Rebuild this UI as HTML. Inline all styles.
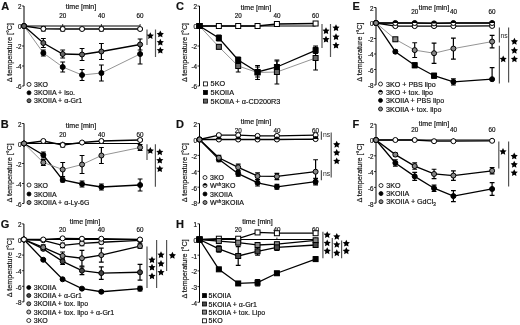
<!DOCTYPE html>
<html><head><meta charset="utf-8"><style>
html,body{margin:0;padding:0;background:#fff;}
svg{display:block;font-family:"Liberation Sans", sans-serif;filter:blur(0.3px);}
</style></head><body>
<svg width="520" height="325" viewBox="0 0 520 325" font-family='"Liberation Sans", sans-serif'>
<style>text{fill:#111;stroke:#111;stroke-width:0.18px;}</style>
<rect width="520" height="325" fill="#fff"/>
<g>
<text x="1.2" y="9.9" font-size="11" font-weight="bold">A</text>
<line x1="24" y1="6" x2="24" y2="86" stroke="#000" stroke-width="1"/>
<line x1="22" y1="6" x2="24" y2="6" stroke="#000" stroke-width="0.8"/>
<text x="21.5" y="9.3" font-size="6.3" text-anchor="end">2</text>
<line x1="22" y1="26" x2="24" y2="26" stroke="#000" stroke-width="0.8"/>
<text x="21.5" y="29.3" font-size="6.3" text-anchor="end">0</text>
<line x1="22" y1="46" x2="24" y2="46" stroke="#000" stroke-width="0.8"/>
<text x="21.5" y="49.3" font-size="6.3" text-anchor="end">-2</text>
<line x1="22" y1="66" x2="24" y2="66" stroke="#000" stroke-width="0.8"/>
<text x="21.5" y="69.3" font-size="6.3" text-anchor="end">-4</text>
<line x1="22" y1="86" x2="24" y2="86" stroke="#000" stroke-width="0.8"/>
<text x="21.5" y="89.3" font-size="6.3" text-anchor="end">-6</text>
<text transform="translate(11.8,52.6) rotate(-90)" font-size="7.2" text-anchor="middle">Δ temperature [°C]</text>
<line x1="24" y1="26" x2="140.10000000000002" y2="26" stroke="#000" stroke-width="1"/>
<line x1="62.7" y1="24" x2="62.7" y2="26" stroke="#000" stroke-width="0.8"/>
<text x="62.7" y="18.2" font-size="6.3" text-anchor="middle">20</text>
<line x1="101.4" y1="24" x2="101.4" y2="26" stroke="#000" stroke-width="0.8"/>
<text x="101.4" y="18.2" font-size="6.3" text-anchor="middle">40</text>
<line x1="140.10000000000002" y1="24" x2="140.10000000000002" y2="26" stroke="#000" stroke-width="0.8"/>
<text x="140.10000000000002" y="18.2" font-size="6.3" text-anchor="middle">60</text>
<text x="81" y="9.1" font-size="7" text-anchor="middle">time [min]</text>
<polyline points="24.00,26.00 43.35,28.80 62.70,29.00 82.05,29.00 101.40,29.00 140.10,29.00" fill="none" stroke="#000" stroke-width="1.3"/>
<polyline points="24.00,26.00 43.35,53.00 62.70,67.00 82.05,75.00 101.40,73.00 140.10,54.00" fill="none" stroke="#888" stroke-width="0.9"/>
<polyline points="24.00,26.00 43.35,43.00 62.70,54.00 82.05,54.50 101.40,51.50 140.10,44.50" fill="none" stroke="#000" stroke-width="1.3"/>
<path d="M43.35,26.80V30.80M40.95,26.80h4.8M40.95,30.80h4.8" stroke="#000" stroke-width="1.2" fill="none"/>
<path d="M62.70,27.00V31.00M60.30,27.00h4.8M60.30,31.00h4.8" stroke="#000" stroke-width="1.2" fill="none"/>
<path d="M82.05,28.00V30.00M79.65,28.00h4.8M79.65,30.00h4.8" stroke="#000" stroke-width="1.2" fill="none"/>
<path d="M101.40,27.00V31.00M99.00,27.00h4.8M99.00,31.00h4.8" stroke="#000" stroke-width="1.2" fill="none"/>
<path d="M140.10,28.00V30.00M137.70,28.00h4.8M137.70,30.00h4.8" stroke="#000" stroke-width="1.2" fill="none"/>
<path d="M43.35,50.00V56.00M40.95,50.00h4.8M40.95,56.00h4.8" stroke="#000" stroke-width="1.2" fill="none"/>
<path d="M62.70,62.00V72.00M60.30,62.00h4.8M60.30,72.00h4.8" stroke="#000" stroke-width="1.2" fill="none"/>
<path d="M82.05,69.50V80.50M79.65,69.50h4.8M79.65,80.50h4.8" stroke="#000" stroke-width="1.2" fill="none"/>
<path d="M101.40,65.00V81.00M99.00,65.00h4.8M99.00,81.00h4.8" stroke="#000" stroke-width="1.2" fill="none"/>
<path d="M140.10,44.00V64.00M137.70,44.00h4.8M137.70,64.00h4.8" stroke="#000" stroke-width="1.2" fill="none"/>
<path d="M43.35,38.50V47.50M40.95,38.50h4.8M40.95,47.50h4.8" stroke="#000" stroke-width="1.2" fill="none"/>
<path d="M62.70,50.00V58.00M60.30,50.00h4.8M60.30,58.00h4.8" stroke="#000" stroke-width="1.2" fill="none"/>
<path d="M82.05,48.50V60.50M79.65,48.50h4.8M79.65,60.50h4.8" stroke="#000" stroke-width="1.2" fill="none"/>
<path d="M101.40,43.50V59.50M99.00,43.50h4.8M99.00,59.50h4.8" stroke="#000" stroke-width="1.2" fill="none"/>
<path d="M140.10,39.00V50.00M137.70,39.00h4.8M137.70,50.00h4.8" stroke="#000" stroke-width="1.2" fill="none"/>
<circle cx="24.00" cy="26.00" r="2.5" fill="#fff" stroke="#000" stroke-width="1.0"/>
<circle cx="43.35" cy="28.80" r="2.5" fill="#fff" stroke="#000" stroke-width="1.0"/>
<circle cx="62.70" cy="29.00" r="2.5" fill="#fff" stroke="#000" stroke-width="1.0"/>
<circle cx="82.05" cy="29.00" r="2.5" fill="#fff" stroke="#000" stroke-width="1.0"/>
<circle cx="101.40" cy="29.00" r="2.5" fill="#fff" stroke="#000" stroke-width="1.0"/>
<circle cx="140.10" cy="29.00" r="2.5" fill="#fff" stroke="#000" stroke-width="1.0"/>
<circle cx="24.00" cy="26.00" r="2.5" fill="#000" stroke="#000" stroke-width="1.0"/>
<circle cx="43.35" cy="53.00" r="2.5" fill="#000" stroke="#000" stroke-width="1.0"/>
<circle cx="62.70" cy="67.00" r="2.5" fill="#000" stroke="#000" stroke-width="1.0"/>
<circle cx="82.05" cy="75.00" r="2.5" fill="#000" stroke="#000" stroke-width="1.0"/>
<circle cx="101.40" cy="73.00" r="2.5" fill="#000" stroke="#000" stroke-width="1.0"/>
<circle cx="140.10" cy="54.00" r="2.5" fill="#000" stroke="#000" stroke-width="1.0"/>
<circle cx="24.00" cy="26.00" r="2.5" fill="#666" stroke="#000" stroke-width="1.0"/>
<circle cx="43.35" cy="43.00" r="2.5" fill="#666" stroke="#000" stroke-width="1.0"/>
<circle cx="62.70" cy="54.00" r="2.5" fill="#666" stroke="#000" stroke-width="1.0"/>
<circle cx="82.05" cy="54.50" r="2.5" fill="#666" stroke="#000" stroke-width="1.0"/>
<circle cx="101.40" cy="51.50" r="2.5" fill="#666" stroke="#000" stroke-width="1.0"/>
<circle cx="140.10" cy="44.50" r="2.5" fill="#666" stroke="#000" stroke-width="1.0"/>
<circle cx="29.00" cy="84.40" r="2.0" fill="#fff" stroke="#000" stroke-width="0.8"/>
<text x="34" y="86.9" font-size="7">3KO</text>
<circle cx="29.00" cy="92.80" r="2.0" fill="#000" stroke="#000" stroke-width="0.8"/>
<text x="34" y="95.3" font-size="7">3KOIIA + iso.</text>
<circle cx="29.00" cy="100.70" r="2.0" fill="#666" stroke="#000" stroke-width="0.8"/>
<text x="34" y="103.2" font-size="7">3KOIIA + α-Gr1</text>
<line x1="147" y1="29.5" x2="147" y2="45" stroke="#555" stroke-width="1.2"/>
<line x1="155.5" y1="29.5" x2="155.5" y2="57" stroke="#555" stroke-width="1.2"/>
<polygon points="150.30,32.15 151.40,34.38 153.87,34.74 152.08,36.48 152.50,38.93 150.30,37.77 148.10,38.93 148.52,36.48 146.73,34.74 149.20,34.38" fill="#000"/>
<polygon points="160.30,30.55 161.40,32.78 163.87,33.14 162.08,34.88 162.50,37.33 160.30,36.17 158.10,37.33 158.52,34.88 156.73,33.14 159.20,32.78" fill="#000"/>
<polygon points="160.30,38.75 161.40,40.98 163.87,41.34 162.08,43.08 162.50,45.53 160.30,44.38 158.10,45.53 158.52,43.08 156.73,41.34 159.20,40.98" fill="#000"/>
<polygon points="160.30,46.75 161.40,48.98 163.87,49.34 162.08,51.08 162.50,53.53 160.30,52.38 158.10,53.53 158.52,51.08 156.73,49.34 159.20,48.98" fill="#000"/>
</g>
<g>
<text x="0.8" y="128" font-size="11" font-weight="bold">B</text>
<line x1="24" y1="123.5" x2="24" y2="203.5" stroke="#000" stroke-width="1"/>
<line x1="22" y1="123.5" x2="24" y2="123.5" stroke="#000" stroke-width="0.8"/>
<text x="21.5" y="126.8" font-size="6.3" text-anchor="end">2</text>
<line x1="22" y1="143.5" x2="24" y2="143.5" stroke="#000" stroke-width="0.8"/>
<text x="21.5" y="146.8" font-size="6.3" text-anchor="end">0</text>
<line x1="22" y1="163.5" x2="24" y2="163.5" stroke="#000" stroke-width="0.8"/>
<text x="21.5" y="166.8" font-size="6.3" text-anchor="end">-2</text>
<line x1="22" y1="183.5" x2="24" y2="183.5" stroke="#000" stroke-width="0.8"/>
<text x="21.5" y="186.8" font-size="6.3" text-anchor="end">-4</text>
<line x1="22" y1="203.5" x2="24" y2="203.5" stroke="#000" stroke-width="0.8"/>
<text x="21.5" y="206.8" font-size="6.3" text-anchor="end">-6</text>
<text transform="translate(11.8,172.8) rotate(-90)" font-size="7.2" text-anchor="middle">Δ temperature [°C]</text>
<line x1="24" y1="143.5" x2="140.10000000000002" y2="143.5" stroke="#000" stroke-width="1"/>
<line x1="62.7" y1="141.5" x2="62.7" y2="143.5" stroke="#000" stroke-width="0.8"/>
<text x="62.7" y="136.7" font-size="6.3" text-anchor="middle">20</text>
<line x1="101.4" y1="141.5" x2="101.4" y2="143.5" stroke="#000" stroke-width="0.8"/>
<text x="101.4" y="136.7" font-size="6.3" text-anchor="middle">40</text>
<line x1="140.10000000000002" y1="141.5" x2="140.10000000000002" y2="143.5" stroke="#000" stroke-width="0.8"/>
<text x="140.10000000000002" y="136.7" font-size="6.3" text-anchor="middle">60</text>
<text x="81" y="127.89999999999999" font-size="7" text-anchor="middle">time [min]</text>
<polyline points="24.00,143.50 43.35,141.00 62.70,145.00 82.05,142.50 101.40,141.00 140.10,140.00" fill="none" stroke="#000" stroke-width="1.3"/>
<polyline points="24.00,143.50 43.35,155.00 62.70,180.00 82.05,184.00 101.40,187.00 140.10,185.00" fill="none" stroke="#000" stroke-width="1.3"/>
<polyline points="24.00,143.50 43.35,162.50 62.70,169.50 82.05,164.50 101.40,155.50 140.10,147.50" fill="none" stroke="#888" stroke-width="0.9"/>
<path d="M43.35,140.00V142.00M40.95,140.00h4.8M40.95,142.00h4.8" stroke="#000" stroke-width="1.2" fill="none"/>
<path d="M62.70,143.00V147.00M60.30,143.00h4.8M60.30,147.00h4.8" stroke="#000" stroke-width="1.2" fill="none"/>
<path d="M82.05,141.50V143.50M79.65,141.50h4.8M79.65,143.50h4.8" stroke="#000" stroke-width="1.2" fill="none"/>
<path d="M101.40,140.00V142.00M99.00,140.00h4.8M99.00,142.00h4.8" stroke="#000" stroke-width="1.2" fill="none"/>
<path d="M140.10,139.00V141.00M137.70,139.00h4.8M137.70,141.00h4.8" stroke="#000" stroke-width="1.2" fill="none"/>
<path d="M43.35,152.00V158.00M40.95,152.00h4.8M40.95,158.00h4.8" stroke="#000" stroke-width="1.2" fill="none"/>
<path d="M62.70,178.00V182.00M60.30,178.00h4.8M60.30,182.00h4.8" stroke="#000" stroke-width="1.2" fill="none"/>
<path d="M82.05,181.00V187.00M79.65,181.00h4.8M79.65,187.00h4.8" stroke="#000" stroke-width="1.2" fill="none"/>
<path d="M101.40,184.00V190.00M99.00,184.00h4.8M99.00,190.00h4.8" stroke="#000" stroke-width="1.2" fill="none"/>
<path d="M140.10,179.00V191.00M137.70,179.00h4.8M137.70,191.00h4.8" stroke="#000" stroke-width="1.2" fill="none"/>
<path d="M43.35,159.50V165.50M40.95,159.50h4.8M40.95,165.50h4.8" stroke="#000" stroke-width="1.2" fill="none"/>
<path d="M62.70,162.50V176.50M60.30,162.50h4.8M60.30,176.50h4.8" stroke="#000" stroke-width="1.2" fill="none"/>
<path d="M82.05,155.50V173.50M79.65,155.50h4.8M79.65,173.50h4.8" stroke="#000" stroke-width="1.2" fill="none"/>
<path d="M101.40,147.50V163.50M99.00,147.50h4.8M99.00,163.50h4.8" stroke="#000" stroke-width="1.2" fill="none"/>
<path d="M140.10,144.50V150.50M137.70,144.50h4.8M137.70,150.50h4.8" stroke="#000" stroke-width="1.2" fill="none"/>
<circle cx="24.00" cy="143.50" r="2.5" fill="#fff" stroke="#000" stroke-width="1.0"/>
<circle cx="43.35" cy="141.00" r="2.5" fill="#fff" stroke="#000" stroke-width="1.0"/>
<circle cx="62.70" cy="145.00" r="2.5" fill="#fff" stroke="#000" stroke-width="1.0"/>
<circle cx="82.05" cy="142.50" r="2.5" fill="#fff" stroke="#000" stroke-width="1.0"/>
<circle cx="101.40" cy="141.00" r="2.5" fill="#fff" stroke="#000" stroke-width="1.0"/>
<circle cx="140.10" cy="140.00" r="2.5" fill="#fff" stroke="#000" stroke-width="1.0"/>
<circle cx="24.00" cy="143.50" r="2.5" fill="#000" stroke="#000" stroke-width="1.0"/>
<circle cx="43.35" cy="155.00" r="2.5" fill="#000" stroke="#000" stroke-width="1.0"/>
<circle cx="62.70" cy="180.00" r="2.5" fill="#000" stroke="#000" stroke-width="1.0"/>
<circle cx="82.05" cy="184.00" r="2.5" fill="#000" stroke="#000" stroke-width="1.0"/>
<circle cx="101.40" cy="187.00" r="2.5" fill="#000" stroke="#000" stroke-width="1.0"/>
<circle cx="140.10" cy="185.00" r="2.5" fill="#000" stroke="#000" stroke-width="1.0"/>
<circle cx="24.00" cy="143.50" r="2.5" fill="#888" stroke="#000" stroke-width="1.0"/>
<circle cx="43.35" cy="162.50" r="2.5" fill="#888" stroke="#000" stroke-width="1.0"/>
<circle cx="62.70" cy="169.50" r="2.5" fill="#888" stroke="#000" stroke-width="1.0"/>
<circle cx="82.05" cy="164.50" r="2.5" fill="#888" stroke="#000" stroke-width="1.0"/>
<circle cx="101.40" cy="155.50" r="2.5" fill="#888" stroke="#000" stroke-width="1.0"/>
<circle cx="140.10" cy="147.50" r="2.5" fill="#888" stroke="#000" stroke-width="1.0"/>
<circle cx="29.00" cy="185.00" r="2.0" fill="#fff" stroke="#000" stroke-width="0.8"/>
<text x="34" y="187.5" font-size="7">3KO</text>
<circle cx="29.00" cy="194.00" r="2.0" fill="#000" stroke="#000" stroke-width="0.8"/>
<text x="34" y="196.5" font-size="7">3KOIIA</text>
<circle cx="29.00" cy="202.50" r="2.0" fill="#888" stroke="#000" stroke-width="0.8"/>
<text x="34" y="205.0" font-size="7">3KOIIA + α-Ly-6G</text>
<line x1="147" y1="144.3" x2="147" y2="160.1" stroke="#555" stroke-width="1.2"/>
<line x1="155.4" y1="144.3" x2="155.4" y2="186.7" stroke="#555" stroke-width="1.2"/>
<polygon points="150.30,147.05 151.40,149.28 153.87,149.64 152.08,151.38 152.50,153.83 150.30,152.68 148.10,153.83 148.52,151.38 146.73,149.64 149.20,149.28" fill="#000"/>
<polygon points="159.80,148.45 160.90,150.68 163.37,151.04 161.58,152.78 162.00,155.23 159.80,154.07 157.60,155.23 158.02,152.78 156.23,151.04 158.70,150.68" fill="#000"/>
<polygon points="159.80,156.75 160.90,158.98 163.37,159.34 161.58,161.08 162.00,163.53 159.80,162.38 157.60,163.53 158.02,161.08 156.23,159.34 158.70,158.98" fill="#000"/>
<polygon points="159.80,165.25 160.90,167.48 163.37,167.84 161.58,169.58 162.00,172.03 159.80,170.88 157.60,172.03 158.02,169.58 156.23,167.84 158.70,167.48" fill="#000"/>
</g>
<g>
<text x="176" y="10" font-size="11" font-weight="bold">C</text>
<line x1="199.5" y1="6" x2="199.5" y2="86" stroke="#000" stroke-width="1"/>
<line x1="197.5" y1="6" x2="199.5" y2="6" stroke="#000" stroke-width="0.8"/>
<text x="197.0" y="9.3" font-size="6.3" text-anchor="end">2</text>
<line x1="197.5" y1="26" x2="199.5" y2="26" stroke="#000" stroke-width="0.8"/>
<text x="197.0" y="29.3" font-size="6.3" text-anchor="end">0</text>
<line x1="197.5" y1="46" x2="199.5" y2="46" stroke="#000" stroke-width="0.8"/>
<text x="197.0" y="49.3" font-size="6.3" text-anchor="end">-2</text>
<line x1="197.5" y1="66" x2="199.5" y2="66" stroke="#000" stroke-width="0.8"/>
<text x="197.0" y="69.3" font-size="6.3" text-anchor="end">-4</text>
<line x1="197.5" y1="86" x2="199.5" y2="86" stroke="#000" stroke-width="0.8"/>
<text x="197.0" y="89.3" font-size="6.3" text-anchor="end">-6</text>
<text transform="translate(187.3,52.5) rotate(-90)" font-size="7.2" text-anchor="middle">Δ temperature [°C]</text>
<line x1="199.5" y1="26" x2="315.6" y2="26" stroke="#000" stroke-width="1"/>
<line x1="238.2" y1="24" x2="238.2" y2="26" stroke="#000" stroke-width="0.8"/>
<text x="238.2" y="18.2" font-size="6.3" text-anchor="middle">20</text>
<line x1="276.9" y1="24" x2="276.9" y2="26" stroke="#000" stroke-width="0.8"/>
<text x="276.9" y="18.2" font-size="6.3" text-anchor="middle">40</text>
<line x1="315.6" y1="24" x2="315.6" y2="26" stroke="#000" stroke-width="0.8"/>
<text x="315.6" y="18.2" font-size="6.3" text-anchor="middle">60</text>
<text x="256" y="9.6" font-size="7" text-anchor="middle">time [min]</text>
<polyline points="199.50,26.00 218.85,26.00 238.20,26.00 257.55,26.00 276.90,24.00 315.60,23.50" fill="none" stroke="#000" stroke-width="1.3"/>
<polyline points="199.50,26.00 218.85,46.80 238.20,66.00 257.55,72.50 276.90,72.00 315.60,58.00" fill="none" stroke="#888" stroke-width="0.9"/>
<polyline points="199.50,26.00 218.85,38.00 238.20,60.00 257.55,72.00 276.90,67.00 315.60,50.30" fill="none" stroke="#000" stroke-width="1.3"/>
<path d="M218.85,25.00V27.00M216.45,25.00h4.8M216.45,27.00h4.8" stroke="#000" stroke-width="1.2" fill="none"/>
<path d="M238.20,25.00V27.00M235.80,25.00h4.8M235.80,27.00h4.8" stroke="#000" stroke-width="1.2" fill="none"/>
<path d="M257.55,25.00V27.00M255.15,25.00h4.8M255.15,27.00h4.8" stroke="#000" stroke-width="1.2" fill="none"/>
<path d="M276.90,23.00V25.00M274.50,23.00h4.8M274.50,25.00h4.8" stroke="#000" stroke-width="1.2" fill="none"/>
<path d="M315.60,22.50V24.50M313.20,22.50h4.8M313.20,24.50h4.8" stroke="#000" stroke-width="1.2" fill="none"/>
<path d="M218.85,44.80V48.80M216.45,44.80h4.8M216.45,48.80h4.8" stroke="#000" stroke-width="1.2" fill="none"/>
<path d="M238.20,60.00V72.00M235.80,60.00h4.8M235.80,72.00h4.8" stroke="#000" stroke-width="1.2" fill="none"/>
<path d="M257.55,65.50V79.50M255.15,65.50h4.8M255.15,79.50h4.8" stroke="#000" stroke-width="1.2" fill="none"/>
<path d="M276.90,60.00V84.00M274.50,60.00h4.8M274.50,84.00h4.8" stroke="#000" stroke-width="1.2" fill="none"/>
<path d="M315.60,46.00V70.00M313.20,46.00h4.8M313.20,70.00h4.8" stroke="#000" stroke-width="1.2" fill="none"/>
<path d="M218.85,35.00V41.00M216.45,35.00h4.8M216.45,41.00h4.8" stroke="#000" stroke-width="1.2" fill="none"/>
<path d="M238.20,57.00V63.00M235.80,57.00h4.8M235.80,63.00h4.8" stroke="#000" stroke-width="1.2" fill="none"/>
<path d="M257.55,67.00V77.00M255.15,67.00h4.8M255.15,77.00h4.8" stroke="#000" stroke-width="1.2" fill="none"/>
<path d="M276.90,61.00V73.00M274.50,61.00h4.8M274.50,73.00h4.8" stroke="#000" stroke-width="1.2" fill="none"/>
<path d="M315.60,47.30V53.30M313.20,47.30h4.8M313.20,53.30h4.8" stroke="#000" stroke-width="1.2" fill="none"/>
<rect x="197.00" y="23.50" width="5.0" height="5.0" fill="#fff" stroke="#000" stroke-width="1.0"/>
<rect x="216.35" y="23.50" width="5.0" height="5.0" fill="#fff" stroke="#000" stroke-width="1.0"/>
<rect x="235.70" y="23.50" width="5.0" height="5.0" fill="#fff" stroke="#000" stroke-width="1.0"/>
<rect x="255.05" y="23.50" width="5.0" height="5.0" fill="#fff" stroke="#000" stroke-width="1.0"/>
<rect x="274.40" y="21.50" width="5.0" height="5.0" fill="#fff" stroke="#000" stroke-width="1.0"/>
<rect x="313.10" y="21.00" width="5.0" height="5.0" fill="#fff" stroke="#000" stroke-width="1.0"/>
<rect x="197.00" y="23.50" width="5.0" height="5.0" fill="#666" stroke="#000" stroke-width="1.0"/>
<rect x="216.35" y="44.30" width="5.0" height="5.0" fill="#666" stroke="#000" stroke-width="1.0"/>
<rect x="235.70" y="63.50" width="5.0" height="5.0" fill="#666" stroke="#000" stroke-width="1.0"/>
<rect x="255.05" y="70.00" width="5.0" height="5.0" fill="#666" stroke="#000" stroke-width="1.0"/>
<rect x="274.40" y="69.50" width="5.0" height="5.0" fill="#666" stroke="#000" stroke-width="1.0"/>
<rect x="313.10" y="55.50" width="5.0" height="5.0" fill="#666" stroke="#000" stroke-width="1.0"/>
<rect x="197.00" y="23.50" width="5.0" height="5.0" fill="#000" stroke="#000" stroke-width="1.0"/>
<rect x="216.35" y="35.50" width="5.0" height="5.0" fill="#000" stroke="#000" stroke-width="1.0"/>
<rect x="235.70" y="57.50" width="5.0" height="5.0" fill="#000" stroke="#000" stroke-width="1.0"/>
<rect x="255.05" y="69.50" width="5.0" height="5.0" fill="#000" stroke="#000" stroke-width="1.0"/>
<rect x="274.40" y="64.50" width="5.0" height="5.0" fill="#000" stroke="#000" stroke-width="1.0"/>
<rect x="313.10" y="47.80" width="5.0" height="5.0" fill="#000" stroke="#000" stroke-width="1.0"/>
<rect x="203.40" y="81.90" width="4.0" height="4.0" fill="#fff" stroke="#000" stroke-width="0.8"/>
<text x="210.6" y="86.4" font-size="7.25">5KO</text>
<rect x="203.40" y="90.50" width="4.0" height="4.0" fill="#000" stroke="#000" stroke-width="0.8"/>
<text x="210.6" y="95.0" font-size="7.25">5KOIIA</text>
<rect x="203.40" y="99.10" width="4.0" height="4.0" fill="#666" stroke="#000" stroke-width="0.8"/>
<text x="210.6" y="103.6" font-size="7.25">5KOIIA + α-CD200R3</text>
<line x1="322" y1="24" x2="322" y2="48" stroke="#555" stroke-width="1.2"/>
<line x1="330.5" y1="24" x2="330.5" y2="57" stroke="#555" stroke-width="1.2"/>
<polygon points="326.00,27.25 327.10,29.48 329.57,29.84 327.78,31.58 328.20,34.03 326.00,32.88 323.80,34.03 324.22,31.58 322.43,29.84 324.90,29.48" fill="#000"/>
<polygon points="326.00,35.75 327.10,37.98 329.57,38.34 327.78,40.08 328.20,42.53 326.00,41.38 323.80,42.53 324.22,40.08 322.43,38.34 324.90,37.98" fill="#000"/>
<polygon points="336.00,24.25 337.10,26.48 339.57,26.84 337.78,28.58 338.20,31.03 336.00,29.88 333.80,31.03 334.22,28.58 332.43,26.84 334.90,26.48" fill="#000"/>
<polygon points="336.00,33.25 337.10,35.48 339.57,35.84 337.78,37.58 338.20,40.03 336.00,38.88 333.80,40.03 334.22,37.58 332.43,35.84 334.90,35.48" fill="#000"/>
<polygon points="336.00,41.75 337.10,43.98 339.57,44.34 337.78,46.08 338.20,48.53 336.00,47.38 333.80,48.53 334.22,46.08 332.43,44.34 334.90,43.98" fill="#000"/>
</g>
<g>
<text x="176" y="127.8" font-size="11" font-weight="bold">D</text>
<line x1="199.5" y1="123.6" x2="199.5" y2="203.1" stroke="#000" stroke-width="1"/>
<line x1="197.5" y1="123.6" x2="199.5" y2="123.6" stroke="#000" stroke-width="0.8"/>
<text x="197.0" y="126.89999999999999" font-size="6.3" text-anchor="end">2</text>
<line x1="197.5" y1="139.5" x2="199.5" y2="139.5" stroke="#000" stroke-width="0.8"/>
<text x="197.0" y="142.8" font-size="6.3" text-anchor="end">0</text>
<line x1="197.5" y1="155.4" x2="199.5" y2="155.4" stroke="#000" stroke-width="0.8"/>
<text x="197.0" y="158.70000000000002" font-size="6.3" text-anchor="end">-2</text>
<line x1="197.5" y1="171.3" x2="199.5" y2="171.3" stroke="#000" stroke-width="0.8"/>
<text x="197.0" y="174.60000000000002" font-size="6.3" text-anchor="end">-4</text>
<line x1="197.5" y1="187.2" x2="199.5" y2="187.2" stroke="#000" stroke-width="0.8"/>
<text x="197.0" y="190.5" font-size="6.3" text-anchor="end">-6</text>
<line x1="197.5" y1="203.1" x2="199.5" y2="203.1" stroke="#000" stroke-width="0.8"/>
<text x="197.0" y="206.4" font-size="6.3" text-anchor="end">-8</text>
<text transform="translate(187.3,172.54999999999998) rotate(-90)" font-size="7.2" text-anchor="middle">Δ temperature [°C]</text>
<line x1="199.5" y1="139.5" x2="315.6" y2="139.5" stroke="#000" stroke-width="1"/>
<line x1="238.2" y1="137.5" x2="238.2" y2="139.5" stroke="#000" stroke-width="0.8"/>
<text x="238.2" y="132.7" font-size="6.3" text-anchor="middle">20</text>
<line x1="276.9" y1="137.5" x2="276.9" y2="139.5" stroke="#000" stroke-width="0.8"/>
<text x="276.9" y="132.7" font-size="6.3" text-anchor="middle">40</text>
<line x1="315.6" y1="137.5" x2="315.6" y2="139.5" stroke="#000" stroke-width="0.8"/>
<text x="315.6" y="132.7" font-size="6.3" text-anchor="middle">60</text>
<text x="256" y="124.1" font-size="7" text-anchor="middle">time [min]</text>
<polyline points="199.50,139.50 218.85,135.13 238.20,135.13 257.55,135.92 276.90,135.92 315.60,135.13" fill="none" stroke="#000" stroke-width="1.3"/>
<polyline points="199.50,139.50 218.85,139.50 238.20,139.50 257.55,139.50 276.90,139.50 315.60,139.10" fill="none" stroke="#000" stroke-width="1.3"/>
<polyline points="199.50,139.50 218.85,159.38 238.20,173.69 257.55,182.83 276.90,186.80 315.60,181.63" fill="none" stroke="#000" stroke-width="1.3"/>
<polyline points="199.50,139.50 218.85,157.78 238.20,167.32 257.55,176.07 276.90,176.47 315.60,171.70" fill="none" stroke="#000" stroke-width="1.3"/>
<path d="M218.85,134.33V135.92M216.45,134.33h4.8M216.45,135.92h4.8" stroke="#000" stroke-width="1.2" fill="none"/>
<path d="M238.20,134.33V135.92M235.80,134.33h4.8M235.80,135.92h4.8" stroke="#000" stroke-width="1.2" fill="none"/>
<path d="M257.55,135.13V136.72M255.15,135.13h4.8M255.15,136.72h4.8" stroke="#000" stroke-width="1.2" fill="none"/>
<path d="M276.90,135.13V136.72M274.50,135.13h4.8M274.50,136.72h4.8" stroke="#000" stroke-width="1.2" fill="none"/>
<path d="M315.60,134.33V135.92M313.20,134.33h4.8M313.20,135.92h4.8" stroke="#000" stroke-width="1.2" fill="none"/>
<path d="M218.85,138.71V140.29M216.45,138.71h4.8M216.45,140.29h4.8" stroke="#000" stroke-width="1.2" fill="none"/>
<path d="M238.20,138.71V140.29M235.80,138.71h4.8M235.80,140.29h4.8" stroke="#000" stroke-width="1.2" fill="none"/>
<path d="M257.55,138.71V140.29M255.15,138.71h4.8M255.15,140.29h4.8" stroke="#000" stroke-width="1.2" fill="none"/>
<path d="M276.90,138.71V140.29M274.50,138.71h4.8M274.50,140.29h4.8" stroke="#000" stroke-width="1.2" fill="none"/>
<path d="M315.60,138.31V139.90M313.20,138.31h4.8M313.20,139.90h4.8" stroke="#000" stroke-width="1.2" fill="none"/>
<path d="M218.85,156.99V161.76M216.45,156.99h4.8M216.45,161.76h4.8" stroke="#000" stroke-width="1.2" fill="none"/>
<path d="M238.20,171.30V176.07M235.80,171.30h4.8M235.80,176.07h4.8" stroke="#000" stroke-width="1.2" fill="none"/>
<path d="M257.55,179.65V186.01M255.15,179.65h4.8M255.15,186.01h4.8" stroke="#000" stroke-width="1.2" fill="none"/>
<path d="M276.90,184.42V189.19M274.50,184.42h4.8M274.50,189.19h4.8" stroke="#000" stroke-width="1.2" fill="none"/>
<path d="M315.60,178.45V184.81M313.20,178.45h4.8M313.20,184.81h4.8" stroke="#000" stroke-width="1.2" fill="none"/>
<path d="M218.85,155.40V160.17M216.45,155.40h4.8M216.45,160.17h4.8" stroke="#000" stroke-width="1.2" fill="none"/>
<path d="M238.20,164.15V170.50M235.80,164.15h4.8M235.80,170.50h4.8" stroke="#000" stroke-width="1.2" fill="none"/>
<path d="M257.55,172.89V179.25M255.15,172.89h4.8M255.15,179.25h4.8" stroke="#000" stroke-width="1.2" fill="none"/>
<path d="M276.90,173.29V179.65M274.50,173.29h4.8M274.50,179.65h4.8" stroke="#000" stroke-width="1.2" fill="none"/>
<path d="M315.60,159.77V183.62M313.20,159.77h4.8M313.20,183.62h4.8" stroke="#000" stroke-width="1.2" fill="none"/>
<circle cx="199.50" cy="139.50" r="2.5" fill="#fff" stroke="#000" stroke-width="1.0"/>
<circle cx="218.85" cy="135.13" r="2.5" fill="#fff" stroke="#000" stroke-width="1.0"/>
<circle cx="238.20" cy="135.13" r="2.5" fill="#fff" stroke="#000" stroke-width="1.0"/>
<circle cx="257.55" cy="135.92" r="2.5" fill="#fff" stroke="#000" stroke-width="1.0"/>
<circle cx="276.90" cy="135.92" r="2.5" fill="#fff" stroke="#000" stroke-width="1.0"/>
<circle cx="315.60" cy="135.13" r="2.5" fill="#fff" stroke="#000" stroke-width="1.0"/>
<circle cx="199.50" cy="139.50" r="2.5" fill="#fff" stroke="#000" stroke-width="1.0"/>
<path d="M197.00,139.50 A2.5,2.5 0 0 1 202.00,139.50 Z" fill="#000"/>
<circle cx="218.85" cy="139.50" r="2.5" fill="#fff" stroke="#000" stroke-width="1.0"/>
<path d="M216.35,139.50 A2.5,2.5 0 0 1 221.35,139.50 Z" fill="#000"/>
<circle cx="238.20" cy="139.50" r="2.5" fill="#fff" stroke="#000" stroke-width="1.0"/>
<path d="M235.70,139.50 A2.5,2.5 0 0 1 240.70,139.50 Z" fill="#000"/>
<circle cx="257.55" cy="139.50" r="2.5" fill="#fff" stroke="#000" stroke-width="1.0"/>
<path d="M255.05,139.50 A2.5,2.5 0 0 1 260.05,139.50 Z" fill="#000"/>
<circle cx="276.90" cy="139.50" r="2.5" fill="#fff" stroke="#000" stroke-width="1.0"/>
<path d="M274.40,139.50 A2.5,2.5 0 0 1 279.40,139.50 Z" fill="#000"/>
<circle cx="315.60" cy="139.10" r="2.5" fill="#fff" stroke="#000" stroke-width="1.0"/>
<path d="M313.10,139.10 A2.5,2.5 0 0 1 318.10,139.10 Z" fill="#000"/>
<circle cx="199.50" cy="139.50" r="2.5" fill="#000" stroke="#000" stroke-width="1.0"/>
<circle cx="218.85" cy="159.38" r="2.5" fill="#000" stroke="#000" stroke-width="1.0"/>
<circle cx="238.20" cy="173.69" r="2.5" fill="#000" stroke="#000" stroke-width="1.0"/>
<circle cx="257.55" cy="182.83" r="2.5" fill="#000" stroke="#000" stroke-width="1.0"/>
<circle cx="276.90" cy="186.80" r="2.5" fill="#000" stroke="#000" stroke-width="1.0"/>
<circle cx="315.60" cy="181.63" r="2.5" fill="#000" stroke="#000" stroke-width="1.0"/>
<circle cx="199.50" cy="139.50" r="2.5" fill="#888" stroke="#000" stroke-width="1.0"/>
<circle cx="218.85" cy="157.78" r="2.5" fill="#888" stroke="#000" stroke-width="1.0"/>
<circle cx="238.20" cy="167.32" r="2.5" fill="#888" stroke="#000" stroke-width="1.0"/>
<circle cx="257.55" cy="176.07" r="2.5" fill="#888" stroke="#000" stroke-width="1.0"/>
<circle cx="276.90" cy="176.47" r="2.5" fill="#888" stroke="#000" stroke-width="1.0"/>
<circle cx="315.60" cy="171.70" r="2.5" fill="#888" stroke="#000" stroke-width="1.0"/>
<circle cx="205.00" cy="177.50" r="2.0" fill="#fff" stroke="#000" stroke-width="0.8"/>
<text x="210" y="180.0" font-size="7">3KO</text>
<circle cx="205.00" cy="185.50" r="2.0" fill="#fff" stroke="#000" stroke-width="0.8"/>
<path d="M203.00,185.50 A2.0,2.0 0 0 1 207.00,185.50 Z" fill="#000"/>
<text x="210" y="188.0" font-size="7">W<tspan font-size="4.5" dy="-2">sh</tspan><tspan dy="2">3KO</tspan></text>
<circle cx="205.00" cy="194.00" r="2.0" fill="#000" stroke="#000" stroke-width="0.8"/>
<text x="210" y="196.5" font-size="7">3KOIIA</text>
<circle cx="205.00" cy="202.50" r="2.0" fill="#888" stroke="#000" stroke-width="0.8"/>
<text x="210" y="205.0" font-size="7">W<tspan font-size="4.5" dy="-2">sh</tspan><tspan dy="2">3KOIIA</tspan></text>
<line x1="321.4" y1="131.5" x2="321.4" y2="139.7" stroke="#555" stroke-width="1.2"/>
<line x1="321.4" y1="170.2" x2="321.4" y2="180.3" stroke="#555" stroke-width="1.2"/>
<line x1="331.2" y1="132.4" x2="331.2" y2="177.5" stroke="#555" stroke-width="1.2"/>
<polygon points="336.70,140.85 337.80,143.08 340.27,143.44 338.48,145.18 338.90,147.63 336.70,146.47 334.50,147.63 334.92,145.18 333.13,143.44 335.60,143.08" fill="#000"/>
<polygon points="336.70,149.05 337.80,151.28 340.27,151.64 338.48,153.38 338.90,155.83 336.70,154.68 334.50,155.83 334.92,153.38 333.13,151.64 335.60,151.28" fill="#000"/>
<polygon points="336.70,157.45 337.80,159.68 340.27,160.04 338.48,161.78 338.90,164.23 336.70,163.07 334.50,164.23 334.92,161.78 333.13,160.04 335.60,159.68" fill="#000"/>
<text x="322.9" y="136.79999999999998" font-size="6.8" style="fill:#222;stroke:none">ns</text>
<text x="322.9" y="176.4" font-size="6.8" style="fill:#222;stroke:none">ns</text>
</g>
<g>
<text x="352.6" y="10" font-size="11" font-weight="bold">E</text>
<line x1="376" y1="7.5" x2="376" y2="85.0" stroke="#000" stroke-width="1"/>
<line x1="374" y1="7.5" x2="376" y2="7.5" stroke="#000" stroke-width="0.8"/>
<text x="373.5" y="10.8" font-size="6.3" text-anchor="end">2</text>
<line x1="374" y1="23.0" x2="376" y2="23.0" stroke="#000" stroke-width="0.8"/>
<text x="373.5" y="26.3" font-size="6.3" text-anchor="end">0</text>
<line x1="374" y1="38.5" x2="376" y2="38.5" stroke="#000" stroke-width="0.8"/>
<text x="373.5" y="41.8" font-size="6.3" text-anchor="end">-2</text>
<line x1="374" y1="54.0" x2="376" y2="54.0" stroke="#000" stroke-width="0.8"/>
<text x="373.5" y="57.3" font-size="6.3" text-anchor="end">-4</text>
<line x1="374" y1="69.5" x2="376" y2="69.5" stroke="#000" stroke-width="0.8"/>
<text x="373.5" y="72.8" font-size="6.3" text-anchor="end">-6</text>
<line x1="374" y1="85.0" x2="376" y2="85.0" stroke="#000" stroke-width="0.8"/>
<text x="373.5" y="88.3" font-size="6.3" text-anchor="end">-8</text>
<text transform="translate(362,52.05) rotate(-90)" font-size="7.2" text-anchor="middle">Δ temperature [°C]</text>
<line x1="376" y1="23" x2="492.1" y2="23" stroke="#000" stroke-width="1"/>
<line x1="414.7" y1="21" x2="414.7" y2="23" stroke="#000" stroke-width="0.8"/>
<text x="414.7" y="14.0" font-size="6.3" text-anchor="middle">20</text>
<line x1="453.4" y1="21" x2="453.4" y2="23" stroke="#000" stroke-width="0.8"/>
<text x="453.4" y="14.0" font-size="6.3" text-anchor="middle">40</text>
<line x1="492.1" y1="21" x2="492.1" y2="23" stroke="#000" stroke-width="0.8"/>
<text x="492.1" y="14.0" font-size="6.3" text-anchor="middle">60</text>
<text x="434" y="9.8" font-size="7" text-anchor="middle">time [min]</text>
<polyline points="376.00,23.00 395.35,26.10 414.70,26.10 434.05,26.10 453.40,26.10 492.10,25.95" fill="none" stroke="#000" stroke-width="1.3"/>
<polyline points="376.00,23.00 395.35,23.00 414.70,23.00 434.05,23.39 453.40,23.00 492.10,23.00" fill="none" stroke="#000" stroke-width="1.3"/>
<polyline points="376.00,23.00 395.35,51.67 414.70,65.24 434.05,75.70 453.40,81.90 492.10,79.19" fill="none" stroke="#000" stroke-width="1.3"/>
<polyline points="376.00,23.00 395.35,39.28 414.70,50.12 434.05,53.22 453.40,48.58 492.10,41.60" fill="none" stroke="#888" stroke-width="0.9"/>
<path d="M395.35,24.94V27.26M392.95,24.94h4.8M392.95,27.26h4.8" stroke="#000" stroke-width="1.2" fill="none"/>
<path d="M414.70,24.94V27.26M412.30,24.94h4.8M412.30,27.26h4.8" stroke="#000" stroke-width="1.2" fill="none"/>
<path d="M434.05,24.94V27.26M431.65,24.94h4.8M431.65,27.26h4.8" stroke="#000" stroke-width="1.2" fill="none"/>
<path d="M453.40,24.94V27.26M451.00,24.94h4.8M451.00,27.26h4.8" stroke="#000" stroke-width="1.2" fill="none"/>
<path d="M492.10,24.78V27.11M489.70,24.78h4.8M489.70,27.11h4.8" stroke="#000" stroke-width="1.2" fill="none"/>
<path d="M395.35,21.84V24.16M392.95,21.84h4.8M392.95,24.16h4.8" stroke="#000" stroke-width="1.2" fill="none"/>
<path d="M414.70,21.84V24.16M412.30,21.84h4.8M412.30,24.16h4.8" stroke="#000" stroke-width="1.2" fill="none"/>
<path d="M434.05,22.23V24.55M431.65,22.23h4.8M431.65,24.55h4.8" stroke="#000" stroke-width="1.2" fill="none"/>
<path d="M453.40,21.84V24.16M451.00,21.84h4.8M451.00,24.16h4.8" stroke="#000" stroke-width="1.2" fill="none"/>
<path d="M492.10,21.84V24.16M489.70,21.84h4.8M489.70,24.16h4.8" stroke="#000" stroke-width="1.2" fill="none"/>
<path d="M395.35,50.12V53.23M392.95,50.12h4.8M392.95,53.23h4.8" stroke="#000" stroke-width="1.2" fill="none"/>
<path d="M414.70,62.91V67.56M412.30,62.91h4.8M412.30,67.56h4.8" stroke="#000" stroke-width="1.2" fill="none"/>
<path d="M434.05,73.38V78.03M431.65,73.38h4.8M431.65,78.03h4.8" stroke="#000" stroke-width="1.2" fill="none"/>
<path d="M453.40,78.80V85.00M451.00,78.80h4.8M451.00,85.00h4.8" stroke="#000" stroke-width="1.2" fill="none"/>
<path d="M492.10,67.56V79.19M489.70,67.56h4.8" stroke="#000" stroke-width="1.2" fill="none"/>
<path d="M395.35,37.73V40.83M392.95,37.73h4.8M392.95,40.83h4.8" stroke="#000" stroke-width="1.2" fill="none"/>
<path d="M414.70,42.76V57.49M412.30,42.76h4.8M412.30,57.49h4.8" stroke="#000" stroke-width="1.2" fill="none"/>
<path d="M434.05,43.15V63.30M431.65,43.15h4.8M431.65,63.30h4.8" stroke="#000" stroke-width="1.2" fill="none"/>
<path d="M453.40,38.11V59.04M451.00,38.11h4.8M451.00,59.04h4.8" stroke="#000" stroke-width="1.2" fill="none"/>
<path d="M492.10,35.40V47.80M489.70,35.40h4.8M489.70,47.80h4.8" stroke="#000" stroke-width="1.2" fill="none"/>
<circle cx="376.00" cy="23.00" r="2.5" fill="#fff" stroke="#000" stroke-width="1.0"/>
<circle cx="395.35" cy="26.10" r="2.5" fill="#fff" stroke="#000" stroke-width="1.0"/>
<circle cx="414.70" cy="26.10" r="2.5" fill="#fff" stroke="#000" stroke-width="1.0"/>
<circle cx="434.05" cy="26.10" r="2.5" fill="#fff" stroke="#000" stroke-width="1.0"/>
<circle cx="453.40" cy="26.10" r="2.5" fill="#fff" stroke="#000" stroke-width="1.0"/>
<circle cx="492.10" cy="25.95" r="2.5" fill="#fff" stroke="#000" stroke-width="1.0"/>
<circle cx="376.00" cy="23.00" r="2.5" fill="#fff" stroke="#000" stroke-width="1.0"/>
<path d="M373.50,23.00 A2.5,2.5 0 0 1 378.50,23.00 Z" fill="#000"/>
<circle cx="395.35" cy="23.00" r="2.5" fill="#fff" stroke="#000" stroke-width="1.0"/>
<path d="M392.85,23.00 A2.5,2.5 0 0 1 397.85,23.00 Z" fill="#000"/>
<circle cx="414.70" cy="23.00" r="2.5" fill="#fff" stroke="#000" stroke-width="1.0"/>
<path d="M412.20,23.00 A2.5,2.5 0 0 1 417.20,23.00 Z" fill="#000"/>
<circle cx="434.05" cy="23.39" r="2.5" fill="#fff" stroke="#000" stroke-width="1.0"/>
<path d="M431.55,23.39 A2.5,2.5 0 0 1 436.55,23.39 Z" fill="#000"/>
<circle cx="453.40" cy="23.00" r="2.5" fill="#fff" stroke="#000" stroke-width="1.0"/>
<path d="M450.90,23.00 A2.5,2.5 0 0 1 455.90,23.00 Z" fill="#000"/>
<circle cx="492.10" cy="23.00" r="2.5" fill="#fff" stroke="#000" stroke-width="1.0"/>
<path d="M489.60,23.00 A2.5,2.5 0 0 1 494.60,23.00 Z" fill="#000"/>
<circle cx="376.00" cy="23.00" r="2.5" fill="#000" stroke="#000" stroke-width="1.0"/>
<circle cx="395.35" cy="51.67" r="2.5" fill="#000" stroke="#000" stroke-width="1.0"/>
<rect x="412.20" y="62.74" width="5.0" height="5.0" fill="#000" stroke="#000" stroke-width="1.0"/>
<rect x="431.55" y="73.20" width="5.0" height="5.0" fill="#000" stroke="#000" stroke-width="1.0"/>
<circle cx="453.40" cy="81.90" r="2.5" fill="#000" stroke="#000" stroke-width="1.0"/>
<circle cx="492.10" cy="79.19" r="2.5" fill="#000" stroke="#000" stroke-width="1.0"/>
<circle cx="376.00" cy="23.00" r="2.5" fill="#888" stroke="#000" stroke-width="1.0"/>
<rect x="392.85" y="36.78" width="5.0" height="5.0" fill="#888" stroke="#000" stroke-width="1.0"/>
<circle cx="414.70" cy="50.12" r="2.5" fill="#888" stroke="#000" stroke-width="1.0"/>
<circle cx="434.05" cy="53.22" r="2.5" fill="#888" stroke="#000" stroke-width="1.0"/>
<circle cx="453.40" cy="48.58" r="2.5" fill="#888" stroke="#000" stroke-width="1.0"/>
<circle cx="492.10" cy="41.60" r="2.5" fill="#888" stroke="#000" stroke-width="1.0"/>
<circle cx="380.50" cy="84.00" r="2.0" fill="#fff" stroke="#000" stroke-width="0.8"/>
<text x="386" y="86.5" font-size="7.15">3KO + PBS lipo</text>
<circle cx="380.50" cy="92.30" r="2.0" fill="#fff" stroke="#000" stroke-width="0.8"/>
<path d="M378.50,92.30 A2.0,2.0 0 0 1 382.50,92.30 Z" fill="#000"/>
<text x="386" y="94.8" font-size="7.15">3KO + tox. lipo</text>
<circle cx="380.50" cy="100.40" r="2.0" fill="#000" stroke="#000" stroke-width="0.8"/>
<text x="386" y="102.9" font-size="7.15">3KOIIA + PBS lipo</text>
<circle cx="380.50" cy="109.00" r="2.0" fill="#888" stroke="#000" stroke-width="0.8"/>
<text x="386" y="111.5" font-size="7.15">3KOIIA + tox. lipo</text>
<line x1="499.4" y1="27.5" x2="499.4" y2="42.6" stroke="#555" stroke-width="1.2"/>
<line x1="499.4" y1="45.8" x2="499.4" y2="83.4" stroke="#555" stroke-width="1.2"/>
<line x1="508.6" y1="27.5" x2="508.6" y2="82.4" stroke="#555" stroke-width="1.2"/>
<polygon points="503.20,55.45 504.30,57.68 506.77,58.04 504.98,59.78 505.40,62.23 503.20,61.08 501.00,62.23 501.42,59.78 499.63,58.04 502.10,57.68" fill="#000"/>
<polygon points="514.40,37.85 515.50,40.08 517.97,40.44 516.18,42.18 516.60,44.63 514.40,43.48 512.20,44.63 512.62,42.18 510.83,40.44 513.30,40.08" fill="#000"/>
<polygon points="514.40,46.85 515.50,49.08 517.97,49.44 516.18,51.18 516.60,53.63 514.40,52.48 512.20,53.63 512.62,51.18 510.83,49.44 513.30,49.08" fill="#000"/>
<polygon points="514.40,55.45 515.50,57.68 517.97,58.04 516.18,59.78 516.60,62.23 514.40,61.08 512.20,62.23 512.62,59.78 510.83,58.04 513.30,57.68" fill="#000"/>
<text x="500.6" y="38.1" font-size="6.8" style="fill:#222;stroke:none">ns</text>
</g>
<g>
<text x="352.6" y="128" font-size="11" font-weight="bold">F</text>
<line x1="376" y1="124.2" x2="376" y2="203.2" stroke="#000" stroke-width="1"/>
<line x1="374" y1="124.2" x2="376" y2="124.2" stroke="#000" stroke-width="0.8"/>
<text x="373.5" y="127.5" font-size="6.3" text-anchor="end">2</text>
<line x1="374" y1="140.0" x2="376" y2="140.0" stroke="#000" stroke-width="0.8"/>
<text x="373.5" y="143.3" font-size="6.3" text-anchor="end">0</text>
<line x1="374" y1="155.8" x2="376" y2="155.8" stroke="#000" stroke-width="0.8"/>
<text x="373.5" y="159.10000000000002" font-size="6.3" text-anchor="end">-2</text>
<line x1="374" y1="171.6" x2="376" y2="171.6" stroke="#000" stroke-width="0.8"/>
<text x="373.5" y="174.9" font-size="6.3" text-anchor="end">-4</text>
<line x1="374" y1="187.4" x2="376" y2="187.4" stroke="#000" stroke-width="0.8"/>
<text x="373.5" y="190.70000000000002" font-size="6.3" text-anchor="end">-6</text>
<line x1="374" y1="203.2" x2="376" y2="203.2" stroke="#000" stroke-width="0.8"/>
<text x="373.5" y="206.5" font-size="6.3" text-anchor="end">-8</text>
<text transform="translate(362.3,173.0) rotate(-90)" font-size="7.2" text-anchor="middle">Δ temperature [°C]</text>
<line x1="376" y1="140" x2="492.1" y2="140" stroke="#000" stroke-width="1"/>
<line x1="414.7" y1="138" x2="414.7" y2="140" stroke="#000" stroke-width="0.8"/>
<text x="414.7" y="131.7" font-size="6.3" text-anchor="middle">20</text>
<line x1="453.4" y1="138" x2="453.4" y2="140" stroke="#000" stroke-width="0.8"/>
<text x="453.4" y="131.7" font-size="6.3" text-anchor="middle">40</text>
<line x1="492.1" y1="138" x2="492.1" y2="140" stroke="#000" stroke-width="0.8"/>
<text x="492.1" y="131.7" font-size="6.3" text-anchor="middle">60</text>
<text x="434" y="125.6" font-size="7" text-anchor="middle">time [min]</text>
<polyline points="376.00,140.00 395.35,140.00 414.70,140.00 434.05,141.19 453.40,141.19 492.10,140.79" fill="none" stroke="#000" stroke-width="1.3"/>
<polyline points="376.00,140.00 395.35,162.91 414.70,176.34 434.05,188.19 453.40,196.09 492.10,188.98" fill="none" stroke="#000" stroke-width="1.3"/>
<polyline points="376.00,140.00 395.35,154.62 414.70,166.07 434.05,173.97 453.40,175.55 492.10,170.81" fill="none" stroke="#000" stroke-width="1.3"/>
<path d="M395.35,139.21V140.79M392.95,139.21h4.8M392.95,140.79h4.8" stroke="#000" stroke-width="1.2" fill="none"/>
<path d="M414.70,139.21V140.79M412.30,139.21h4.8M412.30,140.79h4.8" stroke="#000" stroke-width="1.2" fill="none"/>
<path d="M434.05,140.40V141.97M431.65,140.40h4.8M431.65,141.97h4.8" stroke="#000" stroke-width="1.2" fill="none"/>
<path d="M453.40,140.40V141.97M451.00,140.40h4.8M451.00,141.97h4.8" stroke="#000" stroke-width="1.2" fill="none"/>
<path d="M492.10,140.00V141.58M489.70,140.00h4.8M489.70,141.58h4.8" stroke="#000" stroke-width="1.2" fill="none"/>
<path d="M395.35,159.75V166.07M392.95,159.75h4.8M392.95,166.07h4.8" stroke="#000" stroke-width="1.2" fill="none"/>
<path d="M414.70,172.39V180.29M412.30,172.39h4.8M412.30,180.29h4.8" stroke="#000" stroke-width="1.2" fill="none"/>
<path d="M434.05,185.03V191.35M431.65,185.03h4.8M431.65,191.35h4.8" stroke="#000" stroke-width="1.2" fill="none"/>
<path d="M453.40,190.56V201.62M451.00,190.56h4.8M451.00,201.62h4.8" stroke="#000" stroke-width="1.2" fill="none"/>
<path d="M492.10,182.66V195.30M489.70,182.66h4.8M489.70,195.30h4.8" stroke="#000" stroke-width="1.2" fill="none"/>
<path d="M395.35,153.03V156.19M392.95,153.03h4.8M392.95,156.19h4.8" stroke="#000" stroke-width="1.2" fill="none"/>
<path d="M414.70,162.91V169.23M412.30,162.91h4.8M412.30,169.23h4.8" stroke="#000" stroke-width="1.2" fill="none"/>
<path d="M434.05,169.23V178.71M431.65,169.23h4.8M431.65,178.71h4.8" stroke="#000" stroke-width="1.2" fill="none"/>
<path d="M453.40,170.81V180.29M451.00,170.81h4.8M451.00,180.29h4.8" stroke="#000" stroke-width="1.2" fill="none"/>
<path d="M492.10,167.65V173.97M489.70,167.65h4.8M489.70,173.97h4.8" stroke="#000" stroke-width="1.2" fill="none"/>
<circle cx="376.00" cy="140.00" r="2.5" fill="#fff" stroke="#000" stroke-width="1.0"/>
<circle cx="395.35" cy="140.00" r="2.5" fill="#fff" stroke="#000" stroke-width="1.0"/>
<circle cx="414.70" cy="140.00" r="2.5" fill="#fff" stroke="#000" stroke-width="1.0"/>
<circle cx="434.05" cy="141.19" r="2.5" fill="#fff" stroke="#000" stroke-width="1.0"/>
<circle cx="453.40" cy="141.19" r="2.5" fill="#fff" stroke="#000" stroke-width="1.0"/>
<circle cx="492.10" cy="140.79" r="2.5" fill="#fff" stroke="#000" stroke-width="1.0"/>
<circle cx="376.00" cy="140.00" r="2.5" fill="#000" stroke="#000" stroke-width="1.0"/>
<circle cx="395.35" cy="162.91" r="2.5" fill="#000" stroke="#000" stroke-width="1.0"/>
<circle cx="414.70" cy="176.34" r="2.5" fill="#000" stroke="#000" stroke-width="1.0"/>
<circle cx="434.05" cy="188.19" r="2.5" fill="#000" stroke="#000" stroke-width="1.0"/>
<circle cx="453.40" cy="196.09" r="2.5" fill="#000" stroke="#000" stroke-width="1.0"/>
<circle cx="492.10" cy="188.98" r="2.5" fill="#000" stroke="#000" stroke-width="1.0"/>
<circle cx="376.00" cy="140.00" r="2.5" fill="#888" stroke="#000" stroke-width="1.0"/>
<circle cx="395.35" cy="154.62" r="2.5" fill="#888" stroke="#000" stroke-width="1.0"/>
<circle cx="414.70" cy="166.07" r="2.5" fill="#888" stroke="#000" stroke-width="1.0"/>
<circle cx="434.05" cy="173.97" r="2.5" fill="#888" stroke="#000" stroke-width="1.0"/>
<circle cx="453.40" cy="175.55" r="2.5" fill="#888" stroke="#000" stroke-width="1.0"/>
<circle cx="492.10" cy="170.81" r="2.5" fill="#888" stroke="#000" stroke-width="1.0"/>
<circle cx="381.00" cy="185.50" r="2.0" fill="#fff" stroke="#000" stroke-width="0.8"/>
<text x="386.3" y="188.0" font-size="7.15">3KO</text>
<circle cx="381.00" cy="193.60" r="2.0" fill="#000" stroke="#000" stroke-width="0.8"/>
<text x="386.3" y="196.1" font-size="7.15">3KOIIA</text>
<circle cx="381.00" cy="201.70" r="2.0" fill="#888" stroke="#000" stroke-width="0.8"/>
<text x="386.3" y="204.2" font-size="7.15">3KOIIA + GdCl<tspan font-size="4.5" dy="1.5">3</tspan></text>
<line x1="498.8" y1="141.5" x2="498.8" y2="168.5" stroke="#555" stroke-width="1.2"/>
<line x1="508.6" y1="141.5" x2="508.6" y2="186.6" stroke="#555" stroke-width="1.2"/>
<polygon points="503.00,147.95 504.10,150.18 506.57,150.54 504.78,152.28 505.20,154.73 503.00,153.57 500.80,154.73 501.22,152.28 499.43,150.54 501.90,150.18" fill="#000"/>
<polygon points="514.20,152.55 515.30,154.78 517.77,155.14 515.98,156.88 516.40,159.33 514.20,158.18 512.00,159.33 512.42,156.88 510.63,155.14 513.10,154.78" fill="#000"/>
<polygon points="514.20,160.85 515.30,163.08 517.77,163.44 515.98,165.18 516.40,167.63 514.20,166.47 512.00,167.63 512.42,165.18 510.63,163.44 513.10,163.08" fill="#000"/>
<polygon points="514.20,169.15 515.30,171.38 517.77,171.74 515.98,173.48 516.40,175.93 514.20,174.78 512.00,175.93 512.42,173.48 510.63,171.74 513.10,171.38" fill="#000"/>
</g>
<g>
<text x="0.8" y="227.7" font-size="11" font-weight="bold">G</text>
<line x1="23.9" y1="223.9" x2="23.9" y2="301.9" stroke="#000" stroke-width="1"/>
<line x1="21.9" y1="223.9" x2="23.9" y2="223.9" stroke="#000" stroke-width="0.8"/>
<text x="21.4" y="227.20000000000002" font-size="6.3" text-anchor="end">2</text>
<line x1="21.9" y1="239.5" x2="23.9" y2="239.5" stroke="#000" stroke-width="0.8"/>
<text x="21.4" y="242.8" font-size="6.3" text-anchor="end">0</text>
<line x1="21.9" y1="255.1" x2="23.9" y2="255.1" stroke="#000" stroke-width="0.8"/>
<text x="21.4" y="258.4" font-size="6.3" text-anchor="end">-2</text>
<line x1="21.9" y1="270.7" x2="23.9" y2="270.7" stroke="#000" stroke-width="0.8"/>
<text x="21.4" y="274.0" font-size="6.3" text-anchor="end">-4</text>
<line x1="21.9" y1="286.3" x2="23.9" y2="286.3" stroke="#000" stroke-width="0.8"/>
<text x="21.4" y="289.6" font-size="6.3" text-anchor="end">-6</text>
<line x1="21.9" y1="301.9" x2="23.9" y2="301.9" stroke="#000" stroke-width="0.8"/>
<text x="21.4" y="305.2" font-size="6.3" text-anchor="end">-8</text>
<text transform="translate(11.7,267.59999999999997) rotate(-90)" font-size="7.2" text-anchor="middle">Δ temperature [°C]</text>
<line x1="23.9" y1="239.5" x2="140.0" y2="239.5" stroke="#000" stroke-width="1"/>
<line x1="62.6" y1="237.5" x2="62.6" y2="239.5" stroke="#000" stroke-width="0.8"/>
<text x="62.6" y="231.7" font-size="6.3" text-anchor="middle">20</text>
<line x1="101.30000000000001" y1="237.5" x2="101.30000000000001" y2="239.5" stroke="#000" stroke-width="0.8"/>
<text x="101.30000000000001" y="231.7" font-size="6.3" text-anchor="middle">40</text>
<line x1="140.0" y1="237.5" x2="140.0" y2="239.5" stroke="#000" stroke-width="0.8"/>
<text x="140.0" y="231.7" font-size="6.3" text-anchor="middle">60</text>
<text x="85" y="224.1" font-size="7" text-anchor="middle">time [min]</text>
<polyline points="23.90,239.50 43.25,259.78 62.60,279.28 81.95,288.64 101.30,291.76 140.00,288.64" fill="none" stroke="#000" stroke-width="1.3"/>
<polyline points="23.90,239.50 43.25,248.86 62.60,261.34 81.95,270.70 101.30,273.04 140.00,272.26" fill="none" stroke="#000" stroke-width="1.3"/>
<polyline points="23.90,239.50 43.25,247.30 62.60,255.88 81.95,258.22 101.30,255.10 140.00,246.13" fill="none" stroke="#000" stroke-width="1.3"/>
<polyline points="23.90,239.50 43.25,240.28 62.60,245.35 81.95,243.40 101.30,242.23 140.00,240.28" fill="none" stroke="#000" stroke-width="1.3"/>
<polyline points="23.90,239.50 43.25,239.50 62.60,238.33 81.95,238.72 101.30,238.72 140.00,239.50" fill="none" stroke="#000" stroke-width="1.3"/>
<path d="M43.25,259.00V260.56M40.85,259.00h4.8M40.85,260.56h4.8" stroke="#000" stroke-width="1.2" fill="none"/>
<path d="M62.60,278.50V280.06M60.20,278.50h4.8M60.20,280.06h4.8" stroke="#000" stroke-width="1.2" fill="none"/>
<path d="M81.95,287.86V289.42M79.55,287.86h4.8M79.55,289.42h4.8" stroke="#000" stroke-width="1.2" fill="none"/>
<path d="M101.30,290.98V292.54M98.90,290.98h4.8M98.90,292.54h4.8" stroke="#000" stroke-width="1.2" fill="none"/>
<path d="M140.00,286.30V290.98M137.60,286.30h4.8M137.60,290.98h4.8" stroke="#000" stroke-width="1.2" fill="none"/>
<path d="M43.25,247.30V250.42M40.85,247.30h4.8M40.85,250.42h4.8" stroke="#000" stroke-width="1.2" fill="none"/>
<path d="M62.60,258.22V264.46M60.20,258.22h4.8M60.20,264.46h4.8" stroke="#000" stroke-width="1.2" fill="none"/>
<path d="M81.95,266.80V274.60M79.55,266.80h4.8M79.55,274.60h4.8" stroke="#000" stroke-width="1.2" fill="none"/>
<path d="M101.30,266.80V279.28M98.90,266.80h4.8M98.90,279.28h4.8" stroke="#000" stroke-width="1.2" fill="none"/>
<path d="M140.00,264.46V280.06M137.60,264.46h4.8M137.60,280.06h4.8" stroke="#000" stroke-width="1.2" fill="none"/>
<path d="M43.25,244.96V249.64M40.85,244.96h4.8M40.85,249.64h4.8" stroke="#000" stroke-width="1.2" fill="none"/>
<path d="M62.60,251.98V259.78M60.20,251.98h4.8M60.20,259.78h4.8" stroke="#000" stroke-width="1.2" fill="none"/>
<path d="M81.95,250.42V266.02M79.55,250.42h4.8M79.55,266.02h4.8" stroke="#000" stroke-width="1.2" fill="none"/>
<path d="M101.30,248.08V262.12M98.90,248.08h4.8M98.90,262.12h4.8" stroke="#000" stroke-width="1.2" fill="none"/>
<path d="M140.00,243.79V248.47M137.60,243.79h4.8M137.60,248.47h4.8" stroke="#000" stroke-width="1.2" fill="none"/>
<path d="M43.25,239.50V241.06M40.85,239.50h4.8M40.85,241.06h4.8" stroke="#000" stroke-width="1.2" fill="none"/>
<path d="M62.60,243.01V247.69M60.20,243.01h4.8M60.20,247.69h4.8" stroke="#000" stroke-width="1.2" fill="none"/>
<path d="M81.95,241.06V245.74M79.55,241.06h4.8M79.55,245.74h4.8" stroke="#000" stroke-width="1.2" fill="none"/>
<path d="M101.30,240.67V243.79M98.90,240.67h4.8M98.90,243.79h4.8" stroke="#000" stroke-width="1.2" fill="none"/>
<path d="M140.00,239.50V241.06M137.60,239.50h4.8M137.60,241.06h4.8" stroke="#000" stroke-width="1.2" fill="none"/>
<path d="M43.25,238.72V240.28M40.85,238.72h4.8M40.85,240.28h4.8" stroke="#000" stroke-width="1.2" fill="none"/>
<path d="M62.60,237.55V239.11M60.20,237.55h4.8M60.20,239.11h4.8" stroke="#000" stroke-width="1.2" fill="none"/>
<path d="M81.95,237.94V239.50M79.55,237.94h4.8M79.55,239.50h4.8" stroke="#000" stroke-width="1.2" fill="none"/>
<path d="M101.30,237.94V239.50M98.90,237.94h4.8M98.90,239.50h4.8" stroke="#000" stroke-width="1.2" fill="none"/>
<path d="M140.00,238.72V240.28M137.60,238.72h4.8M137.60,240.28h4.8" stroke="#000" stroke-width="1.2" fill="none"/>
<circle cx="23.90" cy="239.50" r="2.5" fill="#000" stroke="#000" stroke-width="1.0"/>
<circle cx="43.25" cy="259.78" r="2.5" fill="#000" stroke="#000" stroke-width="1.0"/>
<circle cx="62.60" cy="279.28" r="2.5" fill="#000" stroke="#000" stroke-width="1.0"/>
<circle cx="81.95" cy="288.64" r="2.5" fill="#000" stroke="#000" stroke-width="1.0"/>
<circle cx="101.30" cy="291.76" r="2.5" fill="#000" stroke="#000" stroke-width="1.0"/>
<circle cx="140.00" cy="288.64" r="2.5" fill="#000" stroke="#000" stroke-width="1.0"/>
<circle cx="23.90" cy="239.50" r="2.5" fill="#444" stroke="#000" stroke-width="1.0"/>
<circle cx="43.25" cy="248.86" r="2.5" fill="#444" stroke="#000" stroke-width="1.0"/>
<circle cx="62.60" cy="261.34" r="2.5" fill="#444" stroke="#000" stroke-width="1.0"/>
<circle cx="81.95" cy="270.70" r="2.5" fill="#444" stroke="#000" stroke-width="1.0"/>
<circle cx="101.30" cy="273.04" r="2.5" fill="#444" stroke="#000" stroke-width="1.0"/>
<circle cx="140.00" cy="272.26" r="2.5" fill="#444" stroke="#000" stroke-width="1.0"/>
<circle cx="23.90" cy="239.50" r="2.5" fill="#888" stroke="#000" stroke-width="1.0"/>
<circle cx="43.25" cy="247.30" r="2.5" fill="#888" stroke="#000" stroke-width="1.0"/>
<circle cx="62.60" cy="255.88" r="2.5" fill="#888" stroke="#000" stroke-width="1.0"/>
<circle cx="81.95" cy="258.22" r="2.5" fill="#888" stroke="#000" stroke-width="1.0"/>
<circle cx="101.30" cy="255.10" r="2.5" fill="#888" stroke="#000" stroke-width="1.0"/>
<circle cx="140.00" cy="246.13" r="2.5" fill="#888" stroke="#000" stroke-width="1.0"/>
<circle cx="23.90" cy="239.50" r="2.5" fill="#e4e4e4" stroke="#000" stroke-width="1.0"/>
<circle cx="43.25" cy="240.28" r="2.5" fill="#e4e4e4" stroke="#000" stroke-width="1.0"/>
<circle cx="62.60" cy="245.35" r="2.5" fill="#e4e4e4" stroke="#000" stroke-width="1.0"/>
<circle cx="81.95" cy="243.40" r="2.5" fill="#e4e4e4" stroke="#000" stroke-width="1.0"/>
<circle cx="101.30" cy="242.23" r="2.5" fill="#e4e4e4" stroke="#000" stroke-width="1.0"/>
<circle cx="140.00" cy="240.28" r="2.5" fill="#e4e4e4" stroke="#000" stroke-width="1.0"/>
<circle cx="23.90" cy="239.50" r="2.5" fill="#fff" stroke="#000" stroke-width="1.0"/>
<circle cx="43.25" cy="239.50" r="2.5" fill="#fff" stroke="#000" stroke-width="1.0"/>
<circle cx="62.60" cy="238.33" r="2.5" fill="#fff" stroke="#000" stroke-width="1.0"/>
<circle cx="81.95" cy="238.72" r="2.5" fill="#fff" stroke="#000" stroke-width="1.0"/>
<circle cx="101.30" cy="238.72" r="2.5" fill="#fff" stroke="#000" stroke-width="1.0"/>
<circle cx="140.00" cy="239.50" r="2.5" fill="#fff" stroke="#000" stroke-width="1.0"/>
<circle cx="28.75" cy="287.50" r="2.0" fill="#000" stroke="#000" stroke-width="0.8"/>
<text x="33.75" y="290.0" font-size="7">3KOIIA</text>
<circle cx="28.75" cy="295.50" r="2.0" fill="#444" stroke="#000" stroke-width="0.8"/>
<text x="33.75" y="298.0" font-size="7">3KOIIA + α-Gr1</text>
<circle cx="28.75" cy="303.75" r="2.0" fill="#888" stroke="#000" stroke-width="0.8"/>
<text x="33.75" y="306.25" font-size="7">3KOIIA + tox. lipo</text>
<circle cx="28.75" cy="312.00" r="2.0" fill="#bbb" stroke="#000" stroke-width="0.8"/>
<text x="33.75" y="314.5" font-size="7">3KOIIA + tox. lipo + α-Gr1</text>
<circle cx="28.75" cy="320.50" r="2.0" fill="#fff" stroke="#000" stroke-width="0.8"/>
<text x="33.75" y="323.0" font-size="7">3KO</text>
<line x1="147" y1="246.4" x2="147" y2="288" stroke="#555" stroke-width="1.2"/>
<line x1="156.6" y1="240" x2="156.6" y2="288" stroke="#555" stroke-width="1.2"/>
<line x1="166.6" y1="240" x2="166.6" y2="271" stroke="#555" stroke-width="1.2"/>
<polygon points="152.00,256.25 153.10,258.48 155.57,258.84 153.78,260.58 154.20,263.03 152.00,261.88 149.80,263.03 150.22,260.58 148.43,258.84 150.90,258.48" fill="#000"/>
<polygon points="152.00,263.75 153.10,265.98 155.57,266.34 153.78,268.08 154.20,270.53 152.00,269.38 149.80,270.53 150.22,268.08 148.43,266.34 150.90,265.98" fill="#000"/>
<polygon points="152.00,272.45 153.10,274.68 155.57,275.04 153.78,276.78 154.20,279.23 152.00,278.07 149.80,279.23 150.22,276.78 148.43,275.04 150.90,274.68" fill="#000"/>
<polygon points="161.00,251.25 162.10,253.48 164.57,253.84 162.78,255.58 163.20,258.03 161.00,256.88 158.80,258.03 159.22,255.58 157.43,253.84 159.90,253.48" fill="#000"/>
<polygon points="161.00,260.05 162.10,262.28 164.57,262.64 162.78,264.38 163.20,266.83 161.00,265.68 158.80,266.83 159.22,264.38 157.43,262.64 159.90,262.28" fill="#000"/>
<polygon points="161.00,268.65 162.10,270.88 164.57,271.24 162.78,272.98 163.20,275.43 161.00,274.27 158.80,275.43 159.22,272.98 157.43,271.24 159.90,270.88" fill="#000"/>
<polygon points="172.40,251.85 173.50,254.08 175.97,254.44 174.18,256.18 174.60,258.63 172.40,257.48 170.20,258.63 170.62,256.18 168.83,254.44 171.30,254.08" fill="#000"/>
</g>
<g>
<text x="176" y="227.7" font-size="11" font-weight="bold">H</text>
<line x1="199.5" y1="223.8" x2="199.5" y2="302.3" stroke="#000" stroke-width="1"/>
<line x1="197.5" y1="223.8" x2="199.5" y2="223.8" stroke="#000" stroke-width="0.8"/>
<text x="197.0" y="227.10000000000002" font-size="6.3" text-anchor="end">1</text>
<line x1="197.5" y1="239.5" x2="199.5" y2="239.5" stroke="#000" stroke-width="0.8"/>
<text x="197.0" y="242.8" font-size="6.3" text-anchor="end">0</text>
<line x1="197.5" y1="255.2" x2="199.5" y2="255.2" stroke="#000" stroke-width="0.8"/>
<text x="197.0" y="258.5" font-size="6.3" text-anchor="end">-1</text>
<line x1="197.5" y1="270.9" x2="199.5" y2="270.9" stroke="#000" stroke-width="0.8"/>
<text x="197.0" y="274.2" font-size="6.3" text-anchor="end">-2</text>
<line x1="197.5" y1="286.6" x2="199.5" y2="286.6" stroke="#000" stroke-width="0.8"/>
<text x="197.0" y="289.90000000000003" font-size="6.3" text-anchor="end">-3</text>
<line x1="197.5" y1="302.3" x2="199.5" y2="302.3" stroke="#000" stroke-width="0.8"/>
<text x="197.0" y="305.6" font-size="6.3" text-anchor="end">-4</text>
<text transform="translate(187.3,268.95) rotate(-90)" font-size="7.2" text-anchor="middle">Δ temperature [°C]</text>
<line x1="199.5" y1="239.5" x2="315.6" y2="239.5" stroke="#000" stroke-width="1"/>
<line x1="238.2" y1="237.5" x2="238.2" y2="239.5" stroke="#000" stroke-width="0.8"/>
<text x="238.2" y="231.7" font-size="6.3" text-anchor="middle">20</text>
<line x1="276.9" y1="237.5" x2="276.9" y2="239.5" stroke="#000" stroke-width="0.8"/>
<text x="276.9" y="231.7" font-size="6.3" text-anchor="middle">40</text>
<line x1="315.6" y1="237.5" x2="315.6" y2="239.5" stroke="#000" stroke-width="0.8"/>
<text x="315.6" y="231.7" font-size="6.3" text-anchor="middle">60</text>
<text x="257.5" y="224.1" font-size="7" text-anchor="middle">time [min]</text>
<polyline points="199.50,239.50 218.85,238.72 238.20,238.72 257.55,232.44 276.90,233.22 315.60,233.22" fill="none" stroke="#000" stroke-width="1.3"/>
<polyline points="199.50,239.50 218.85,241.07 238.20,242.64 257.55,245.00 276.90,244.21 315.60,240.28" fill="none" stroke="#000" stroke-width="1.3"/>
<polyline points="199.50,239.50 218.85,248.92 238.20,255.99 257.55,251.28 276.90,247.35 315.60,245.00" fill="none" stroke="#000" stroke-width="1.3"/>
<polyline points="199.50,239.50 218.85,269.33 238.20,283.46 257.55,282.68 276.90,273.25 315.60,259.12" fill="none" stroke="#000" stroke-width="1.3"/>
<path d="M218.85,237.93V239.50M216.45,237.93h4.8M216.45,239.50h4.8" stroke="#000" stroke-width="1.2" fill="none"/>
<path d="M238.20,237.93V239.50M235.80,237.93h4.8M235.80,239.50h4.8" stroke="#000" stroke-width="1.2" fill="none"/>
<path d="M257.55,231.65V233.22M255.15,231.65h4.8M255.15,233.22h4.8" stroke="#000" stroke-width="1.2" fill="none"/>
<path d="M276.90,232.44V234.00M274.50,232.44h4.8M274.50,234.00h4.8" stroke="#000" stroke-width="1.2" fill="none"/>
<path d="M315.60,232.44V234.00M313.20,232.44h4.8M313.20,234.00h4.8" stroke="#000" stroke-width="1.2" fill="none"/>
<path d="M218.85,239.50V242.64M216.45,239.50h4.8M216.45,242.64h4.8" stroke="#000" stroke-width="1.2" fill="none"/>
<path d="M238.20,241.07V244.21M235.80,241.07h4.8M235.80,244.21h4.8" stroke="#000" stroke-width="1.2" fill="none"/>
<path d="M257.55,243.43V246.56M255.15,243.43h4.8M255.15,246.56h4.8" stroke="#000" stroke-width="1.2" fill="none"/>
<path d="M276.90,242.64V245.78M274.50,242.64h4.8M274.50,245.78h4.8" stroke="#000" stroke-width="1.2" fill="none"/>
<path d="M315.60,238.72V241.85M313.20,238.72h4.8M313.20,241.85h4.8" stroke="#000" stroke-width="1.2" fill="none"/>
<path d="M218.85,245.78V252.06M216.45,245.78h4.8M216.45,252.06h4.8" stroke="#000" stroke-width="1.2" fill="none"/>
<path d="M238.20,246.56V265.40M235.80,246.56h4.8M235.80,265.40h4.8" stroke="#000" stroke-width="1.2" fill="none"/>
<path d="M257.55,247.35V255.20M255.15,247.35h4.8M255.15,255.20h4.8" stroke="#000" stroke-width="1.2" fill="none"/>
<path d="M276.90,244.21V250.49M274.50,244.21h4.8M274.50,250.49h4.8" stroke="#000" stroke-width="1.2" fill="none"/>
<path d="M315.60,243.43V246.56M313.20,243.43h4.8M313.20,246.56h4.8" stroke="#000" stroke-width="1.2" fill="none"/>
<path d="M218.85,268.55V270.12M216.45,268.55h4.8M216.45,270.12h4.8" stroke="#000" stroke-width="1.2" fill="none"/>
<path d="M238.20,281.89V285.03M235.80,281.89h4.8M235.80,285.03h4.8" stroke="#000" stroke-width="1.2" fill="none"/>
<path d="M257.55,279.53V285.81M255.15,279.53h4.8M255.15,285.81h4.8" stroke="#000" stroke-width="1.2" fill="none"/>
<path d="M276.90,271.69V274.82M274.50,271.69h4.8M274.50,274.82h4.8" stroke="#000" stroke-width="1.2" fill="none"/>
<path d="M315.60,256.77V261.48M313.20,256.77h4.8M313.20,261.48h4.8" stroke="#000" stroke-width="1.2" fill="none"/>
<rect x="197.00" y="237.00" width="5.0" height="5.0" fill="#fff" stroke="#000" stroke-width="1.0"/>
<rect x="216.35" y="236.22" width="5.0" height="5.0" fill="#fff" stroke="#000" stroke-width="1.0"/>
<rect x="235.70" y="236.22" width="5.0" height="5.0" fill="#fff" stroke="#000" stroke-width="1.0"/>
<rect x="255.05" y="229.94" width="5.0" height="5.0" fill="#fff" stroke="#000" stroke-width="1.0"/>
<rect x="274.40" y="230.72" width="5.0" height="5.0" fill="#fff" stroke="#000" stroke-width="1.0"/>
<rect x="313.10" y="230.72" width="5.0" height="5.0" fill="#fff" stroke="#000" stroke-width="1.0"/>
<rect x="197.00" y="237.00" width="5.0" height="5.0" fill="#888" stroke="#000" stroke-width="1.0"/>
<rect x="216.35" y="238.57" width="5.0" height="5.0" fill="#888" stroke="#000" stroke-width="1.0"/>
<rect x="235.70" y="240.14" width="5.0" height="5.0" fill="#888" stroke="#000" stroke-width="1.0"/>
<rect x="255.05" y="242.50" width="5.0" height="5.0" fill="#888" stroke="#000" stroke-width="1.0"/>
<rect x="274.40" y="241.71" width="5.0" height="5.0" fill="#888" stroke="#000" stroke-width="1.0"/>
<rect x="313.10" y="237.78" width="5.0" height="5.0" fill="#888" stroke="#000" stroke-width="1.0"/>
<rect x="197.00" y="237.00" width="5.0" height="5.0" fill="#484848" stroke="#000" stroke-width="1.0"/>
<rect x="216.35" y="246.42" width="5.0" height="5.0" fill="#484848" stroke="#000" stroke-width="1.0"/>
<rect x="235.70" y="253.49" width="5.0" height="5.0" fill="#484848" stroke="#000" stroke-width="1.0"/>
<rect x="255.05" y="248.78" width="5.0" height="5.0" fill="#484848" stroke="#000" stroke-width="1.0"/>
<rect x="274.40" y="244.85" width="5.0" height="5.0" fill="#484848" stroke="#000" stroke-width="1.0"/>
<rect x="313.10" y="242.50" width="5.0" height="5.0" fill="#484848" stroke="#000" stroke-width="1.0"/>
<rect x="197.00" y="237.00" width="5.0" height="5.0" fill="#000" stroke="#000" stroke-width="1.0"/>
<rect x="216.35" y="266.83" width="5.0" height="5.0" fill="#000" stroke="#000" stroke-width="1.0"/>
<rect x="235.70" y="280.96" width="5.0" height="5.0" fill="#000" stroke="#000" stroke-width="1.0"/>
<rect x="255.05" y="280.18" width="5.0" height="5.0" fill="#000" stroke="#000" stroke-width="1.0"/>
<rect x="274.40" y="270.75" width="5.0" height="5.0" fill="#000" stroke="#000" stroke-width="1.0"/>
<rect x="313.10" y="256.62" width="5.0" height="5.0" fill="#000" stroke="#000" stroke-width="1.0"/>
<rect x="202.50" y="293.60" width="4.0" height="4.0" fill="#000" stroke="#000" stroke-width="0.8"/>
<text x="208.6" y="298.1" font-size="7">5KOIIA</text>
<rect x="202.50" y="302.00" width="4.0" height="4.0" fill="#484848" stroke="#000" stroke-width="0.8"/>
<text x="208.6" y="306.5" font-size="7">5KOIIA + α-Gr1</text>
<rect x="202.50" y="310.10" width="4.0" height="4.0" fill="#888" stroke="#000" stroke-width="0.8"/>
<text x="208.6" y="314.6" font-size="7">5KOIIA + tox. Lipo</text>
<rect x="202.50" y="318.80" width="4.0" height="4.0" fill="#fff" stroke="#000" stroke-width="0.8"/>
<text x="208.6" y="323.3" font-size="7">5KO</text>
<line x1="322.9" y1="231.8" x2="322.9" y2="258.2" stroke="#555" stroke-width="1.2"/>
<line x1="332.3" y1="237.9" x2="332.3" y2="258.2" stroke="#555" stroke-width="1.2"/>
<line x1="341.6" y1="240.4" x2="341.6" y2="258.2" stroke="#555" stroke-width="1.2"/>
<polygon points="327.20,231.15 328.30,233.38 330.77,233.74 328.98,235.48 329.40,237.93 327.20,236.78 325.00,237.93 325.42,235.48 323.63,233.74 326.10,233.38" fill="#000"/>
<polygon points="327.20,239.45 328.30,241.68 330.77,242.04 328.98,243.78 329.40,246.23 327.20,245.07 325.00,246.23 325.42,243.78 323.63,242.04 326.10,241.68" fill="#000"/>
<polygon points="327.20,247.35 328.30,249.58 330.77,249.94 328.98,251.68 329.40,254.13 327.20,252.97 325.00,254.13 325.42,251.68 323.63,249.94 326.10,249.58" fill="#000"/>
<polygon points="336.80,232.95 337.90,235.18 340.37,235.54 338.58,237.28 339.00,239.73 336.80,238.57 334.60,239.73 335.02,237.28 333.23,235.54 335.70,235.18" fill="#000"/>
<polygon points="336.80,240.95 337.90,243.18 340.37,243.54 338.58,245.28 339.00,247.73 336.80,246.57 334.60,247.73 335.02,245.28 333.23,243.54 335.70,243.18" fill="#000"/>
<polygon points="336.80,249.35 337.90,251.58 340.37,251.94 338.58,253.68 339.00,256.13 336.80,254.97 334.60,256.13 335.02,253.68 333.23,251.94 335.70,251.58" fill="#000"/>
<polygon points="346.30,239.75 347.40,241.98 349.87,242.34 348.08,244.08 348.50,246.53 346.30,245.38 344.10,246.53 344.52,244.08 342.73,242.34 345.20,241.98" fill="#000"/>
<polygon points="346.30,247.35 347.40,249.58 349.87,249.94 348.08,251.68 348.50,254.13 346.30,252.97 344.10,254.13 344.52,251.68 342.73,249.94 345.20,249.58" fill="#000"/>
</g>
</svg></body></html>
